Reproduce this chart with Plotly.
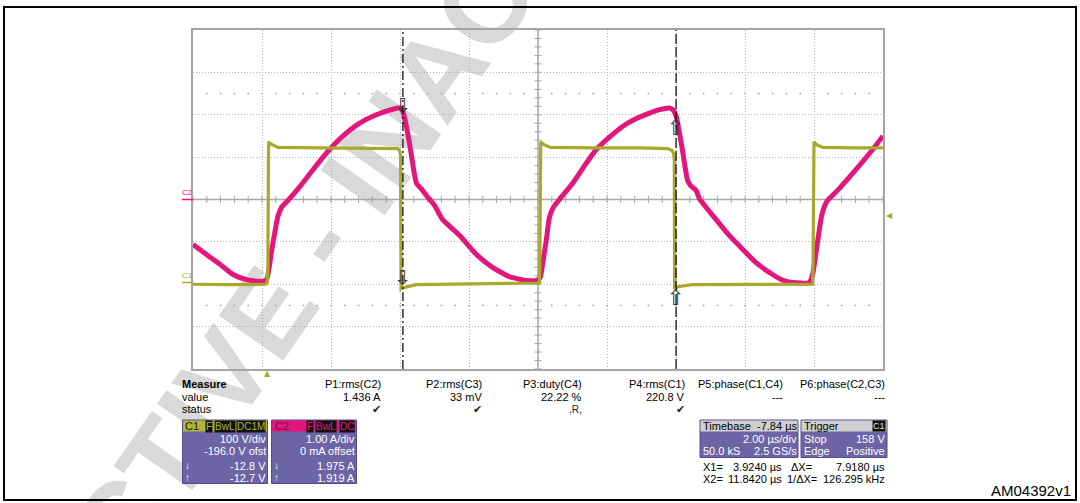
import numpy as np
import plotly.graph_objects as go

# ---------------- data ----------------
# C2 : current probe trace (A)
c2_time_us = [-2.16, -1.77, -1.38, -1.00, -0.61, -0.23, -0.03, 0.12, 0.30, 0.41, 0.56,
              0.93, 1.22, 1.51, 1.80, 2.19, 2.67, 3.15, 3.63, 3.83, 3.92, 3.97, 4.12,
              4.26, 4.32, 4.47, 4.61, 4.84, 5.07, 5.57, 6.06, 6.52, 7.01, 7.50, 7.79,
              7.90, 7.98, 8.09, 8.17, 8.29, 8.46, 8.85, 9.19, 9.53, 9.91, 10.30, 10.69,
              11.07, 11.36, 11.65, 11.77, 11.85, 12.02, 12.17, 12.26, 12.42, 12.52,
              13.00, 13.33, 13.68, 14.16, 14.64, 14.92, 15.22, 15.70, 15.80, 15.94,
              16.07, 16.21, 16.55, 17.06, 17.54, 17.84]
c2_current_a = [-1.06, -1.30, -1.53, -1.77, -1.89, -1.93, -1.89, -1.20, -0.40, -0.18, -0.05,
                0.30, 0.60, 0.90, 1.18, 1.50, 1.80, 2.00, 2.13, 2.16, 2.08, 1.94, 1.30,
                0.59, 0.38, 0.24, 0.09, -0.14, -0.47, -0.85, -1.30, -1.60, -1.82, -1.91, -1.91,
                -1.85, -1.49, -0.90, -0.42, -0.18, 0.00, 0.39, 0.80, 1.18, 1.47, 1.73, 1.91,
                2.04, 2.12, 2.16, 2.10, 1.95, 1.20, 0.47, 0.33, 0.22, 0.02,
                -0.47, -0.80, -1.10, -1.49, -1.77, -1.90, -1.96, -1.96, -1.77, -1.02,
                -0.35, -0.05, 0.24, 0.71, 1.18, 1.50]

# C1 : voltage trace (V)
c1_time_us = [-2.16, -1.20, -0.05, -0.01, 0.01, 0.03, 0.12, 0.30, 1.50, 2.80, 3.60, 3.78,
              3.83, 3.855, 3.87, 3.95, 4.30, 6.00, 7.88, 7.89, 7.90, 7.92, 8.00, 8.20,
              9.50, 10.80, 11.60, 11.72, 11.77, 11.79, 11.80, 11.90, 12.30, 14.00, 15.80,
              15.81, 15.82, 15.84, 15.92, 16.10, 17.00, 17.84]
c1_voltage_v = [-4, -5, -4, 0, 35, 332, 326, 319, 318, 317, 315, 316,
                311, 300, -15, -12, -5, -3, -1, 30, 300, 332, 326, 319,
                318, 318, 316, 312, 305, 290, -15, -10, -5, -4, -4,
                30, 300, 332, 325, 319, 318, 318]

# scope settings
timebase_delay_us = -7.84
time_per_div_us = 2.0
c1_volts_per_div = 100.0
c1_offset_v = -196.0
c2_amps_per_div = 1.0
c2_offset_a = 0.0
trigger_level_v = 158.0
cursor_x1_us = 3.924
cursor_x2_us = 11.842
cursor_c1_v = [-12.8, -12.7]
cursor_c2_a = [1.975, 1.919]

measure_names = ["P1:rms(C2)", "P2:rms(C3)", "P3:duty(C4)", "P4:rms(C1)",
                 "P5:phase(C1,C4)", "P6:phase(C2,C3)"]
measure_values = ["1.436 A", "33 mV", "22.22 %", "220.8 V", "---", "---"]
measure_status = ["✔", "✔", ",R,", "✔", "", ""]

# ---------------- styling / layout helpers ----------------
W, H = 1080, 503
FONT = "Liberation Sans, Arial, sans-serif"
OLIVE = "#a8a82a"
OLIVE_HDR = "#b3b33a"
MAGENTA = "#e3167c"
PURPLE = "#6c64a4"
GRIDC = "#b2b2b2"
AXC = "#a4a4a4"

def px(x):
    return x / W

def py(y):
    return 1 - y / H

PLOT_L, PLOT_R, PLOT_T, PLOT_B = 193, 883, 30, 369

x_center = -timebase_delay_us
x_range = [x_center - 5 * time_per_div_us, x_center + 5 * time_per_div_us]
c1_center = -c1_offset_v
c1_range = [c1_center - 4 * c1_volts_per_div, c1_center + 4 * c1_volts_per_div]
c2_center = -c2_offset_a
c2_range = [c2_center - 4 * c2_amps_per_div, c2_center + 4 * c2_amps_per_div]

fig = go.Figure()

# grid decorations: tick marks on the centre lines and sparse dotted rows
tx = np.arange(x_range[0], x_range[1] + 1e-9, time_per_div_us / 5)
ty = np.arange(c2_range[0], c2_range[1] + 1e-9, c2_amps_per_div / 5)
fig.add_trace(go.Scatter(x=tx, y=[c2_center] * len(tx), mode="markers", yaxis="y",
                         marker=dict(symbol="line-ns", size=5, line=dict(color=AXC, width=1)),
                         hoverinfo="skip"))
fig.add_trace(go.Scatter(x=[x_center] * len(ty), y=ty, mode="markers", yaxis="y",
                         marker=dict(symbol="line-ew", size=5, line=dict(color=AXC, width=1)),
                         hoverinfo="skip"))
for lvl in (2.5, -2.5):
    fig.add_trace(go.Scatter(x=tx[1:-1], y=[c2_center + lvl * c2_amps_per_div] * (len(tx) - 2),
                             mode="markers", yaxis="y",
                             marker=dict(symbol="square", size=1.6, color="#a8a8a8"),
                             hoverinfo="skip"))

# traces
fig.add_trace(go.Scatter(x=c1_time_us, y=c1_voltage_v, yaxis="y2", mode="lines",
                         line=dict(color=OLIVE, width=3.2), hoverinfo="skip"))
fig.add_trace(go.Scatter(x=c2_time_us, y=c2_current_a, yaxis="y", mode="lines",
                         line=dict(color=MAGENTA, width=5, shape="spline", smoothing=0.5),
                         hoverinfo="skip"))

shapes = []
ann = []

# cursor arrows (white outlined block arrows at the cursor readings)
for xc, yv, ax, glyph, anc in [(cursor_x1_us, cursor_c2_a[0], "y", "⇩", "bottom"),
                               (cursor_x1_us, cursor_c1_v[0], "y2", "⇩", "bottom"),
                               (cursor_x2_us, cursor_c2_a[1], "y", "⇧", "top"),
                               (cursor_x2_us, cursor_c1_v[1], "y2", "⇧", "top")]:
    ann.append(dict(text=glyph, xref="x", yref=ax, x=xc, y=yv, xanchor="center",
                    yanchor=anc, showarrow=False, borderpad=0,
                    yshift=-3 if anc == "bottom" else 3,
                    font=dict(size=21, color="#3a3a3a", family="DejaVu Sans")))

# watermark
wm_cx, wm_cy = 310, 234
shapes.append(dict(type="line", xref="paper", yref="paper",
                   x0=px(wm_cx - 170), y0=py(wm_cy + 250), x1=px(wm_cx + 170), y1=py(wm_cy - 250),
                   line=dict(color="rgba(0,0,0,0)", width=0), layer="below",
                   label=dict(text="<b>INACTIVE - INACTIVE</b>", textangle=-55,
                              textposition="middle", xanchor="center", yanchor="middle",
                              font=dict(size=114, color="#d9d9d9", family=FONT))))

# centre lines
shapes.append(dict(type="line", xref="x", yref="paper", x0=x_center, x1=x_center,
                   y0=py(PLOT_B), y1=py(PLOT_T), line=dict(color=AXC, width=1.5), layer="below"))
shapes.append(dict(type="line", xref="paper", yref="y", x0=px(PLOT_L), x1=px(PLOT_R),
                   y0=c2_center, y1=c2_center, line=dict(color=AXC, width=1.5), layer="below"))

# cursors
shapes.append(dict(type="line", xref="x", yref="paper", x0=cursor_x1_us, x1=cursor_x1_us,
                   y0=py(PLOT_B), y1=py(PLOT_T), line=dict(color="black", width=1.2,
                                                          dash="9px,3px,2px,3px")))
shapes.append(dict(type="line", xref="x", yref="paper", x0=cursor_x2_us, x1=cursor_x2_us,
                   y0=py(PLOT_B), y1=py(PLOT_T), line=dict(color="black", width=1.2,
                                                          dash="10px,3px")))

# channel ground markers
shapes.append(dict(type="line", xref="paper", yref="y", x0=px(182), x1=px(193),
                   y0=0, y1=0, line=dict(color=MAGENTA, width=1.5)))
shapes.append(dict(type="line", xref="paper", yref="y2", x0=px(182), x1=px(193),
                   y0=0, y1=0, line=dict(color=OLIVE, width=1.5)))
ann.append(dict(text="C2", xref="paper", yref="y", x=px(187.5), y=0, yshift=7,
                xanchor="center", yanchor="middle", showarrow=False,
                font=dict(size=8, color=MAGENTA, family=FONT)))
ann.append(dict(text="C1", xref="paper", yref="y2", x=px(187.5), y=0, yshift=7,
                xanchor="center", yanchor="middle", showarrow=False,
                font=dict(size=8, color=OLIVE, family=FONT)))

# trigger markers
ann.append(dict(text="◀", xref="paper", yref="y2", x=px(884), y=trigger_level_v,
                xanchor="left", yanchor="middle", showarrow=False,
                font=dict(size=8, color=OLIVE, family="DejaVu Sans")))
ann.append(dict(text="▲", xref="x", yref="paper", x=0, y=py(373),
                xanchor="center", yanchor="middle", showarrow=False,
                font=dict(size=8, color=OLIVE, family="DejaVu Sans")))

def txt(s, x, y, anchor="left", size=11, color="#000000", bold=False, bg=None, pad=0,
        family=FONT):
    ann.append(dict(text=f"<b>{s}</b>" if bold else s, x=px(x), y=py(y), xref="paper",
                    yref="paper", xanchor=anchor, yanchor="middle", showarrow=False,
                    font=dict(size=size, color=color, family=family),
                    bgcolor=bg if bg else "rgba(0,0,0,0)", borderpad=pad))

def rect(x0, y0, x1, y1, fill, line=None, lw=0):
    shapes.append(dict(type="rect", xref="paper", yref="paper", x0=px(x0), x1=px(x1),
                       y0=py(y1), y1=py(y0), fillcolor=fill,
                       line=dict(color=line or fill, width=lw), layer="above"))

# outer frame
shapes.append(dict(type="rect", xref="paper", yref="paper", x0=px(4), x1=px(1076),
                   y0=py(500), y1=py(7), line=dict(color="black", width=2), layer="above"))

# measurement table
ROW_H, ROW_V, ROW_S = 384, 396.5, 409
txt("Measure", 181, ROW_H, bold=True)
txt("value", 181, ROW_V)
txt("status", 181, ROW_S)
col_right = [382, 483, 583, 686, 784, 886]
for xr, nm, val, st in zip(col_right, measure_names, measure_values, measure_status):
    txt(nm, xr, ROW_H, anchor="right")
    txt(val, xr, ROW_V, anchor="right")
    if st:
        txt(st, xr, ROW_S, anchor="right", size=10 if st != "✔" else 11,
            family="DejaVu Sans" if st == "✔" else FONT, color="#222222")

# C1 channel box
rect(182.5, 420, 267.5, 483.5, PURPLE, "#534b8c", 1)
rect(183, 420.5, 267, 431.5, OLIVE_HDR)
txt("C1", 184, 426, color="#222200")
txt("F", 208.5, 426, anchor="center", size=10, color=OLIVE_HDR, bg="#111111", pad=0)
txt("BwL", 224.5, 426, anchor="center", size=10, color=OLIVE_HDR, bg="#111111", pad=0)
txt("DC1M", 251, 426, anchor="center", size=10, color=OLIVE_HDR, bg="#111111", pad=0)
txt(f"{c1_volts_per_div:.0f} V/div", 266.5, 438.5, anchor="right", color="white")
txt(f"{c1_offset_v:.1f} V ofst", 266.5, 450.5, anchor="right", color="white")
txt("↓", 184, 465.5, color="white", size=10)
txt(f"{cursor_c1_v[0]:.1f} V", 266.5, 465.5, anchor="right", color="white")
txt("↑", 184, 477.5, color="white", size=10)
txt(f"{cursor_c1_v[1]:.1f} V", 266.5, 477.5, anchor="right", color="white")

# C2 channel box
rect(271.5, 420, 356.5, 483.5, PURPLE, "#534b8c", 1)
rect(272, 420.5, 356, 431.5, MAGENTA)
txt("C2", 274, 426, color="#7a0a40")
txt("F", 309.5, 426, anchor="center", size=10, color=MAGENTA, bg="#111111", pad=0)
txt("BwL", 326, 426, anchor="center", size=10, color=MAGENTA, bg="#111111", pad=0)
txt("DC", 346.5, 426, anchor="center", size=10, color=MAGENTA, bg="#111111", pad=0)
txt(f"{c2_amps_per_div:.2f} A/div", 355.5, 438.5, anchor="right", color="white")
txt("0 mA offset", 355.5, 450.5, anchor="right", color="white")
txt("↓", 273, 465.5, color="white", size=10)
txt(f"{cursor_c2_a[0]:.3f} A", 355.5, 465.5, anchor="right", color="white")
txt("↑", 273, 477.5, color="white", size=10)
txt(f"{cursor_c2_a[1]:.3f} A", 355.5, 477.5, anchor="right", color="white")

# Timebase box
rect(700, 420, 798, 457.5, PURPLE, "#534b8c", 1)
rect(700.5, 420.5, 797.5, 431.5, "#cfcfcf")
txt("Timebase", 701.5, 426)
txt(f"{timebase_delay_us:.2f} µs", 797.5, 426, anchor="right")
txt(f"{time_per_div_us:.2f} µs/div", 797.5, 438.5, anchor="right", color="white")
txt("50.0 kS", 701.5, 450.5, color="white")
txt("2.5 GS/s", 797.5, 450.5, anchor="right", color="white")

# Trigger box
rect(801, 420, 887, 457.5, PURPLE, "#534b8c", 1)
rect(801.5, 420.5, 886.5, 431.5, "#cfcfcf")
txt("Trigger", 803, 426)
txt("C1", 885.5, 426, anchor="right", size=9, color="#e0e0e0", bg="#111111", pad=0)
txt("Stop", 803, 438.5, color="white")
txt(f"{trigger_level_v:.0f} V", 885.5, 438.5, anchor="right", color="white")
txt("Edge", 803, 450.5, color="white")
txt("Positive", 885.5, 450.5, anchor="right", color="white")

# cursor readout
dx = cursor_x2_us - cursor_x1_us
txt("X1=", 701.5, 466.5)
txt(f"{cursor_x1_us:.4f} µs", 783, 466.5, anchor="right")
txt("ΔX=", 790, 466.5)
txt(f"{dx:.4f} µs", 886, 466.5, anchor="right")
txt("X2=", 701.5, 478.5)
txt(f"{cursor_x2_us:.4f} µs", 783, 478.5, anchor="right")
txt("1/ΔX=", 786, 478.5)
txt(f"{1000.0 / dx:.3f} kHz", 886, 478.5, anchor="right")

# figure id
txt("AM04392v1", 1072, 490, anchor="right", size=15)

fig.update_layout(
    width=W, height=H, margin=dict(l=0, r=0, t=0, b=0),
    paper_bgcolor="white", plot_bgcolor="white", showlegend=False,
    font=dict(family=FONT, size=11, color="black"),
    xaxis=dict(domain=[px(PLOT_L), px(PLOT_R)], range=x_range, tick0=x_range[0],
               dtick=time_per_div_us, showgrid=True, gridcolor=GRIDC, griddash="1px,2px",
               gridwidth=1, showticklabels=False, ticks="", zeroline=False,
               showline=True, mirror=True, linecolor=AXC, linewidth=1.5, fixedrange=True),
    yaxis=dict(domain=[py(PLOT_B), py(PLOT_T)], range=c2_range, tick0=c2_range[0],
               dtick=c2_amps_per_div, showgrid=True, gridcolor=GRIDC, griddash="1px,2px",
               gridwidth=1, showticklabels=False, ticks="", zeroline=False,
               showline=True, mirror=True, linecolor=AXC, linewidth=1.5, fixedrange=True),
    yaxis2=dict(overlaying="y", range=c1_range, visible=False, showgrid=False,
                zeroline=False, fixedrange=True),
    shapes=shapes, annotations=ann,
)

fig.write_html("out.html", config={"displayModeBar": False},
               post_script="document.body.style.margin='0px';document.body.style.overflow='hidden';")
